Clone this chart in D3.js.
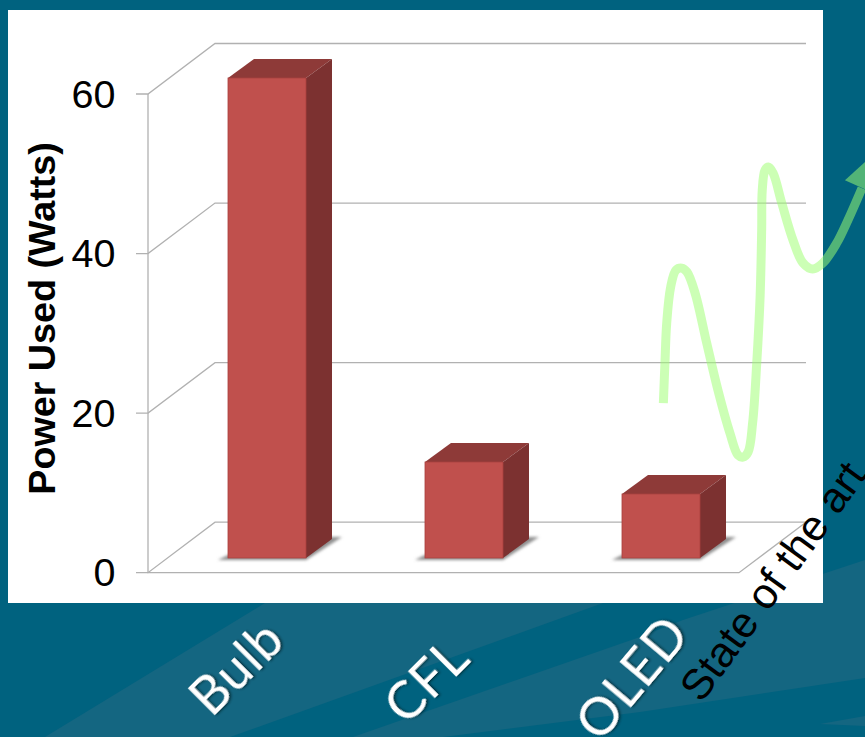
<!DOCTYPE html>
<html><head><meta charset="utf-8">
<style>html,body{margin:0;padding:0;background:#00627f;overflow:hidden}svg{display:block}</style>
<script src="https://cdnjs.cloudflare.com/ajax/libs/d3/7.8.5/d3.min.js"></script>
</head><body>
<script>
// Chart data
const categories = ["Bulb", "CFL", "OLED"];
const futureCategory = "State of the art";
const watts = [60, 12, 8];
const yTicks = [0, 20, 40, 60];
// Sketched trend: position along the category axis, level in watts
const trendPos = [2.012, 2.020, 2.029, 2.049, 2.076, 2.105, 2.132, 2.173, 2.232, 2.289, 2.350, 2.391, 2.416, 2.442, 2.465, 2.486, 2.503, 2.511, 2.514, 2.528, 2.545, 2.569, 2.613, 2.670, 2.721, 2.770, 2.822, 2.892, 2.949, 3.020];
const trendWatts = [21.25, 26.27, 31.29, 35.8, 37.93, 38.18, 37.68, 35.05, 28.78, 22.88, 17.49, 14.73, 14.48, 15.11, 18.75, 26.27, 34.55, 42.95, 47.96, 50.47, 50.85, 50.1, 46.33, 41.69, 38.81, 38.06, 38.81, 41.32, 44.2, 48.2];

const W = 865, H = 737;
const svg = d3.select("body").append("svg").attr("width", W).attr("height", H);
const defs = svg.append("defs");

const blur = defs.append("filter").attr("id", "floorShadow").attr("x", "-20%").attr("y", "-50%").attr("width", "140%").attr("height", "200%");
blur.append("feGaussianBlur").attr("stdDeviation", 1.8);
const textShadow = defs.append("filter").attr("id", "labelShadow").attr("x", "-20%").attr("y", "-20%").attr("width", "140%").attr("height", "140%");
textShadow.append("feDropShadow").attr("dx", 1.5).attr("dy", 1.5).attr("stdDeviation", 1).attr("flood-color", "#00202c").attr("flood-opacity", 0.75);

// Slide backdrop with its pale diagonal streaks
const streak = "#146681";
const streaks = [
  [[45,737],[265,603],[603,603],[230,737]],
  [[353,737],[640,637],[683,620],[865,560],[865,678],[640,712],[443,737]],
  [[820,724],[865,716],[865,726]]
];
svg.selectAll("polygon.streak").data(streaks).join("polygon").attr("class","streak")
  .attr("points", d => d.map(p => p.join(",")).join(" ")).attr("fill", streak);

// White plot card
svg.append("rect").attr("x", 8).attr("y", 10).attr("width", 815).attr("height", 593).attr("fill", "#fff");

// Scales: front wall plane and the bar row
const y = d3.scaleLinear().domain([0, 60]).range([572.7, 94]);
const barHeight = d3.scaleLinear().domain([0, 60]).range([0, 480]);
const band = d3.scaleBand().domain(categories).range([168.5, 759.5]).paddingInner(0.604).paddingOuter(0.302);
const barW = band.bandwidth();
const pos = d3.scaleLinear().domain([0, 1]).range([band("Bulb") + barW / 2, band("CFL") + barW / 2]);

const depth = {x: 67, y: -50.5};   // wall depth
const barDepth = {x: 26, y: -19};  // bar depth
const floorFrontRight = 739, wallX = 148, barBase = 558;

// Wall gridlines, floor and axis
const gridColor = "#b1b1b1";
const grid = svg.append("g").attr("fill", "none").attr("stroke", gridColor).attr("stroke-width", 1.3);
yTicks.forEach(t => {
  grid.append("path").attr("d", d3.line()([
    [wallX - 12, y(t)], [wallX, y(t)], [wallX + depth.x, y(t) + depth.y], [floorFrontRight + depth.x, y(t) + depth.y]
  ]));
});
grid.append("path").attr("d", d3.line()([[wallX, y(60)], [wallX, y(0)], [floorFrontRight, y(0)], [floorFrontRight + depth.x, y(0) + depth.y]]));

// Tick labels and axis title
svg.append("g").selectAll("text").data(yTicks).join("text")
  .attr("x", 115.5).attr("y", d => y(d) + 13.5).attr("text-anchor", "end")
  .attr("font-family", "'Liberation Sans'").attr("font-size", 39.5).attr("fill", "#000")
  .text(d => d);
svg.append("text").attr("transform", "translate(55,318.5) rotate(-90)").attr("text-anchor", "middle")
  .attr("font-family", "'Liberation Sans'").attr("font-weight", "bold").attr("font-size", 37.7).attr("fill", "#000")
  .text("Power Used (Watts)");

// Extruded bars
const bars = svg.append("g").selectAll("g").data(categories).join("g");
bars.append("polygon").attr("filter", "url(#floorShadow)").attr("fill", "#8f8f8f")
  .attr("points", d => {
    const l = band(d);
    return [[l - 10, barBase + 2], [l + barW, barBase + 2], [l + barW + barDepth.x + 10, barBase - 21], [l + barW + barDepth.x - 4, barBase - 21], [l + barW - 5, barBase - 3], [l, barBase - 3]].map(p => p.join(",")).join(" ");
  });
bars.append("polygon").attr("fill", "#8e3a38")
  .attr("points", (d, i) => {
    const l = band(d), t = barBase - barHeight(watts[i]);
    return [[l, t], [l + barW, t], [l + barW + barDepth.x, t + barDepth.y], [l + barDepth.x, t + barDepth.y]].map(p => p.join(",")).join(" ");
  });
bars.append("polygon").attr("fill", "#7c3130")
  .attr("points", (d, i) => {
    const l = band(d), t = barBase - barHeight(watts[i]);
    return [[l + barW, t], [l + barW + barDepth.x, t + barDepth.y], [l + barW + barDepth.x, barBase + barDepth.y], [l + barW, barBase]].map(p => p.join(",")).join(" ");
  });
bars.append("rect").attr("fill", "#c0504d").attr("stroke", "#a9413f").attr("stroke-width", 0.8)
  .attr("x", d => band(d)).attr("width", barW)
  .attr("y", (d, i) => barBase - barHeight(watts[i])).attr("height", (d, i) => barHeight(watts[i]));

// Category labels, placed by hand along the slide below the card
const labelFont = "Lato, 'Open Sans', sans-serif";
const labelPlacement = [
  {x: 262, y: 617, angle: -45},
  {x: 447, y: 635, angle: -45},
  {x: 664, y: 612, angle: -50}
];
svg.append("g").selectAll("text").data(categories).join("text")
  .attr("transform", (d, i) => `translate(${labelPlacement[i].x},${labelPlacement[i].y}) rotate(${labelPlacement[i].angle})`)
  .attr("text-anchor", "end").attr("dy", "0.7em").attr("letter-spacing", 1)
  .attr("font-family", labelFont).attr("font-size", 52).attr("fill", "#fff").attr("filter", "url(#labelShadow)")
  .text(d => d);
svg.append("text").attr("transform", "translate(843,458) rotate(-54)")
  .attr("text-anchor", "end").attr("dy", "0.7em")
  .attr("font-family", "'Liberation Sans'").attr("font-size", 43).attr("fill", "#000")
  .text(futureCategory);

// Hand-drawn arrow showing the expected trend
const trendColor = "#9eff71";
const trendPoints = trendPos.map((p, i) => [pos(p), y(trendWatts[i])]);
const trend = svg.append("g").attr("opacity", 0.52);
trend.append("path").attr("d", d3.line().curve(d3.curveCatmullRom.alpha(0.5))(trendPoints))
  .attr("fill", "none").attr("stroke", trendColor).attr("stroke-width", 9);
const tip = trendPoints[trendPoints.length - 1];
trend.append("polygon").attr("fill", trendColor)
  .attr("points", [[tip[0] - 17, tip[1] - 8], [tip[0] + 14, tip[1] - 36], [tip[0] + 20, tip[1] + 9]].map(p => p.join(",")).join(" "));
</script>
</body></html>
